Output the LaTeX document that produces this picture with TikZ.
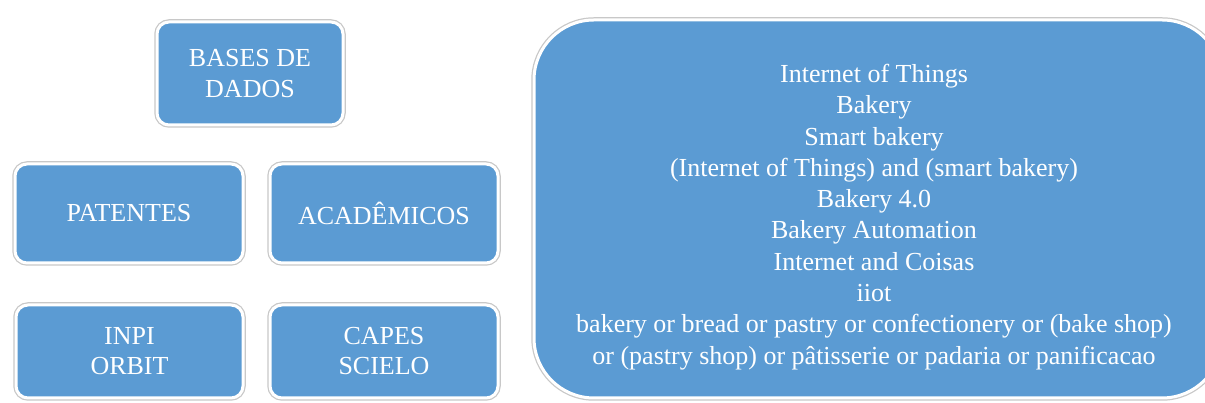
\documentclass[tikz,border=0pt]{standalone}
\usepackage{fontspec}
\setmainfont{Liberation Serif}
\definecolor{boxblue}{RGB}{91,155,211}
\definecolor{rimgray}{RGB}{200,200,200}
\begin{document}
\begin{tikzpicture}[x=1pt,y=1pt,
  box/.style={rectangle, rounded corners=12pt, fill=boxblue, draw=white, line width=3pt,
    preaction={draw=rimgray, line width=5.5pt},
    text=white, font=\fontsize{26}{31}\selectfont, align=center, inner sep=0pt},
  bigbox/.style={box, rounded corners=60pt},
  boxtext/.style={text=white, align=center, inner sep=0pt, font=\fontsize{26}{31.3}\selectfont}]
\useasboundingbox (0,0) rectangle (1205,403);
\node[box, minimum width=186pt, minimum height=103pt] (bases) at (250,329.5) {BASES DE\\DADOS};
\node[box, minimum width=228pt, minimum height=99pt] (patentes) at (129,189.5) {PATENTES};
\node[box, minimum width=228pt, minimum height=99pt] (academicos) at (384,189.5) {ACADÊMICOS};
\node[box, minimum width=227pt, minimum height=93pt, font=\fontsize{26}{30}\selectfont] (inpi) at (129.5,51.5) {INPI\\ORBIT};
\node[box, minimum width=228pt, minimum height=93pt, font=\fontsize{26}{30}\selectfont] (capes) at (384,51.5) {CAPES\\SCIELO};
\node[bigbox, minimum width=688pt, minimum height=378pt] (termos) at (878,194) {};
\node[boxtext] (lista) at (874,186) {Internet of Things\\Bakery\\Smart bakery\\(Internet of Things) and (smart bakery)\\Bakery 4.0\\Bakery Automation\\Internet and Coisas\\iiot\\bakery or bread or pastry or confectionery or (bake shop)\\or (pastry shop) or pâtisserie or padaria or panificacao};
\end{tikzpicture}
\end{document}
